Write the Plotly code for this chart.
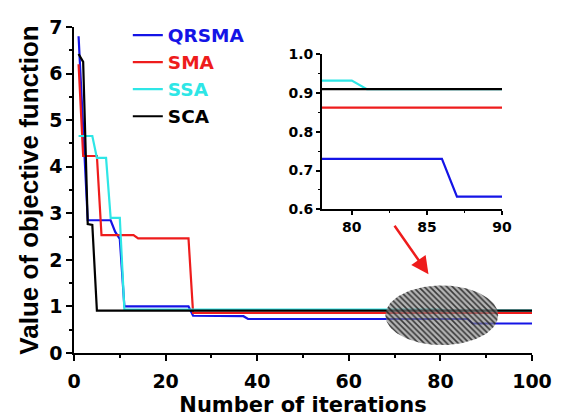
import numpy as np
import plotly.graph_objects as go

# ---- data ----
qrsma_x = [1, 3, 8, 9, 10, 11, 25, 26, 37, 38, 86, 87, 100]
qrsma_y = [6.8, 2.85, 2.85, 2.6, 2.45, 1.0, 1.0, 0.80, 0.79, 0.73, 0.73, 0.633, 0.633]

sma_x = [1, 2, 5, 6, 13, 14, 25, 26, 100]
sma_y = [6.2, 4.23, 4.23, 2.53, 2.53, 2.46, 2.46, 0.862, 0.862]

ssa_x = [1, 4, 5, 7, 8, 10, 11, 80, 81, 100]
ssa_y = [4.66, 4.66, 4.19, 4.19, 2.9, 2.9, 0.932, 0.932, 0.91, 0.91]

sca_x = [1, 2, 3, 4, 5, 100]
sca_y = [6.42, 6.25, 2.77, 2.75, 0.91, 0.91]

series_names = ["QRSMA", "SMA", "SSA", "SCA"]
series_colors = ["#1414e6", "#ee1c1c", "#2ee6e6", "#000000"]
series_x = [qrsma_x, sma_x, ssa_x, sca_x]
series_y = [qrsma_y, sma_y, ssa_y, sca_y]

main_x_ticks = [0, 20, 40, 60, 80, 100]
main_y_ticks = [0, 1, 2, 3, 4, 5, 6, 7]
inset_x_ticks = [80, 85, 90]
inset_y_ticks = [0.6, 0.7, 0.8, 0.9, 1.0]

# zoom-region marker (ellipse) in data units of the main axes
ell_cx, ell_cy, ell_rx, ell_ry = 80.3, 0.81, 12.3, 0.64

FONT = "DejaVu Sans"

fig = go.Figure()

for name, col, xs, ys in zip(series_names, series_colors, series_x, series_y):
    fig.add_trace(go.Scatter(
        x=xs, y=ys, mode="lines",
        name=f'<span style="color:{col}">{name}</span>',
        line=dict(color=col, width=2.2),
        xaxis="x", yaxis="y",
    ))

# hatched ellipse marking the zoomed region
t = np.linspace(0, 2 * np.pi, 120)
fig.add_trace(go.Scatter(
    x=ell_cx + ell_rx * np.cos(t), y=ell_cy + ell_ry * np.sin(t),
    mode="lines", fill="toself", line=dict(width=0),
    fillcolor="rgba(140,140,140,0.6)",
    fillpattern=dict(shape="\\", fgcolor="rgba(25,25,25,0.8)",
                     bgcolor="rgba(140,140,140,0.65)", size=4,
                     solidity=0.4, fillmode="replace"),
    showlegend=False, hoverinfo="skip", xaxis="x", yaxis="y",
))

# inset: same series, zoomed axes
for name, col, xs, ys in zip(series_names, series_colors, series_x, series_y):
    fig.add_trace(go.Scatter(
        x=xs, y=ys, mode="lines", showlegend=False,
        line=dict(color=col, width=2.2),
        xaxis="x2", yaxis="y2",
    ))

axis_common = dict(
    showline=True, linecolor="black", linewidth=1.5, mirror=False,
    showgrid=False, zeroline=False, ticks="outside", tickcolor="black",
    tickwidth=1.5, automargin=False,
)

fig.update_layout(
    width=555, height=411,
    margin=dict(l=66, r=31, t=9, b=66),
    plot_bgcolor="white", paper_bgcolor="white",
    font=dict(family=FONT, color="black"),
    xaxis=dict(
        **axis_common, range=[0, 100], tickvals=main_x_ticks, ticklen=6,
        ticklabelstandoff=4,
        minor=dict(dtick=10, ticklen=3, tickcolor="black", ticks="outside", tickwidth=1.5),
        tickfont=dict(family=FONT, size=19, weight="bold"),
        title=dict(text="Number of iterations", standoff=7,
                   font=dict(family=FONT, size=21, weight="bold")),
        domain=[0, 1],
    ),
    yaxis=dict(
        **axis_common, range=[0, 7], tickvals=main_y_ticks, ticklen=6,
        minor=dict(dtick=0.5, ticklen=3, tickcolor="black", ticks="outside", tickwidth=1.5),
        tickfont=dict(family=FONT, size=19, weight="bold"),
        title=dict(text="Value of objective function", standoff=3,
                   font=dict(family="Liberation Sans", size=26, weight="bold")),
        domain=[0, 1],
    ),
    xaxis2=dict(
        **axis_common, range=[78, 90], tickvals=inset_x_ticks, ticklen=4,
        minor=dict(dtick=2.5, tick0=80, ticklen=2, tickcolor="black", ticks="outside", tickwidth=1.2),
        tickfont=dict(family=FONT, size=14, weight="bold"),
        domain=[0.541, 0.9345], anchor="y2",
    ),
    yaxis2=dict(
        **axis_common, range=[0.6, 1.0], tickvals=inset_y_ticks, tickformat=".1f",
        ticklen=4,
        minor=dict(dtick=0.05, ticklen=2, tickcolor="black", ticks="outside", tickwidth=1.2),
        tickfont=dict(family=FONT, size=14, weight="bold"),
        domain=[0.4405, 0.9167], anchor="x2",
    ),
    legend=dict(
        x=0.1175, y=1.032, xanchor="left", yanchor="top",
        bgcolor="rgba(0,0,0,0)", borderwidth=0,
        font=dict(family=FONT, size=18.5, weight="bold"),
        tracegroupgap=0,
    ),
    showlegend=True,
)

# red arrow pointing from inset down to the ellipse
fig.add_annotation(
    x=77.4, y=1.69, xref="x", yref="y", ax=-35, ay=-50,
    showarrow=True, arrowhead=2, arrowsize=1.4, arrowwidth=2.5,
    arrowcolor="#ee1c1c", text="",
)

fig.write_html("out.html")
